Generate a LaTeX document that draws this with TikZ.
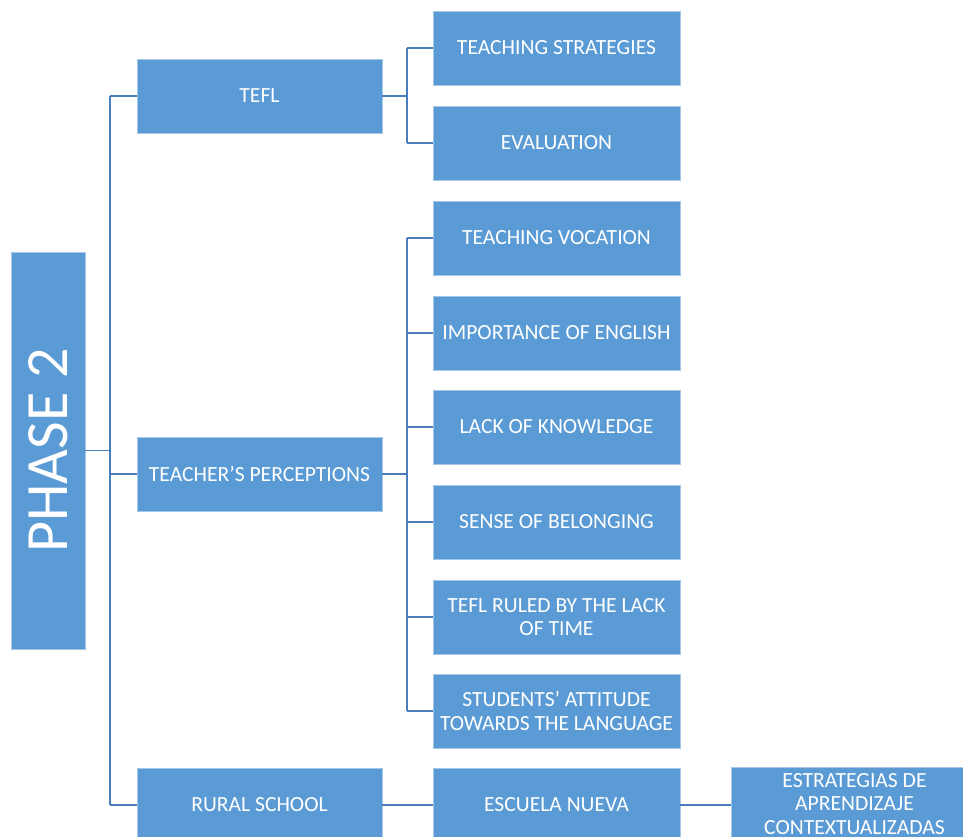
\documentclass[tikz,border=0pt]{standalone}
\usepackage{fontspec}
\setmainfont{Carlito}
\usepackage{tikz}

\definecolor{boxblue}{HTML}{5B9BD5}
\definecolor{lineblue}{HTML}{4A7EBB}

\begin{document}
\begin{tikzpicture}[x=1pt,y=-1pt,
	every node/.style={text=white,font=\fontsize{21.6}{23.5}\selectfont},
	box/.style={fill=boxblue,draw=boxblue!55!white,line width=0.7pt,minimum width=245pt,minimum height=74pt,align=center,inner sep=0pt},
	link/.style={lineblue,line width=1.6pt}]
	
	\useasboundingbox (0,0) rectangle (963,837);
	
	\node[box,rotate=90,minimum width=397pt,minimum height=74pt,font=\fontsize{60}{60}\selectfont] (phase) at (48,450.5) {PHASE 2};
	
	\node[box] (tefl) at (259.5,96) {TEFL};
	\node[box] (percep) at (259.5,474) {TEACHER’S PERCEPTIONS};
	\node[box] (rural) at (259.5,805) {RURAL SCHOOL};
	
	\foreach \name/\y/\txt in {strat/48/TEACHING STRATEGIES, eval/143/EVALUATION,
		voc/238/TEACHING VOCATION, engl/333/IMPORTANCE OF ENGLISH, know/427/LACK OF KNOWLEDGE,
		belong/522/SENSE OF BELONGING, time/617/TEFL RULED BY THE LACK\\OF TIME,
		attit/711/STUDENTS’ ATTITUDE\\TOWARDS THE LANGUAGE, nueva/805/ESCUELA NUEVA}
	\node[box,minimum width=247pt] (\name) at (556.5,\y) {\txt};
	
	\node[box,minimum width=247pt] (estr) at (854.5,804) {ESTRATEGIAS DE\\APRENDIZAJE\\CONTEXTUALIZADAS};
	
	% brackets
	\coordinate (spine) at (110,0);
	\coordinate (fork) at (407,0);
	
	\draw[link] (phase.south) -- (phase.south -| spine);
	\draw[link] (tefl.west -| spine) -- (rural.west -| spine);
	\foreach \n in {tefl,percep,rural} \draw[link] (\n.west -| spine) -- (\n.west);
	
	\draw[link] (tefl.east) -- (tefl.east -| fork);
	\draw[link] (strat.west -| fork) -- (eval.west -| fork);
	\foreach \n in {strat,eval} \draw[link] (\n.west -| fork) -- (\n.west);
	
	\draw[link] (percep.east) -- (percep.east -| fork);
	\draw[link] (voc.west -| fork) -- (attit.west -| fork);
	\foreach \n in {voc,engl,know,belong,time,attit} \draw[link] (\n.west -| fork) -- (\n.west);
	
	\draw[link] (rural) -- (nueva);
	\draw[link] (nueva.east) -- (nueva.east -| estr.west);
	
\end{tikzpicture}
\end{document}
